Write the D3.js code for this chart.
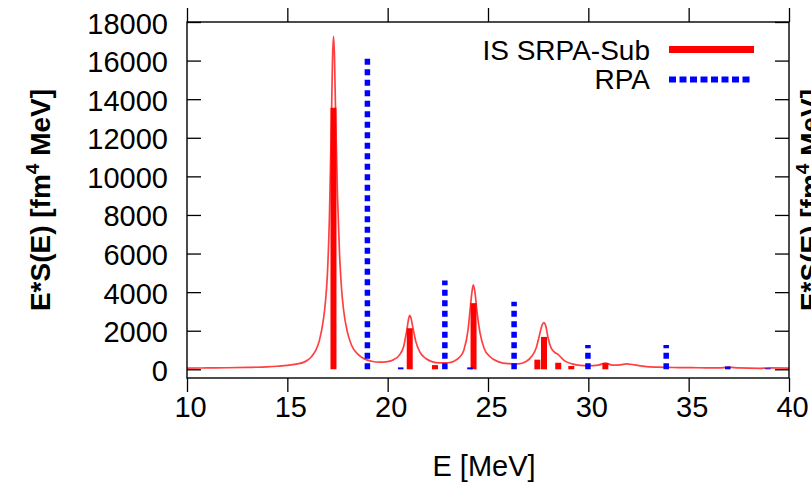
<!DOCTYPE html>
<html>
<head>
<meta charset="utf-8">
<script src="https://cdn.jsdelivr.net/npm/d3@7"></script>
<style>
  body { margin: 0; background: #fff; }
  svg text { font-family: "Liberation Sans", Arial, sans-serif; fill: #000; }
</style>
</head>
<body>
<div id="container"></div>
<script>
/**
 * CONSTANTS AND GLOBALS
 * */
const width = 811,
    height = 482,
    margin = { top: 22, bottom: 104, left: 187, right: 22 };
const fontSize = 29;

/**
 * DATA
 * */
// IS SRPA-Sub discrete strengths (red sticks)
const srpaE = [17.30, 21.10, 22.36, 24.28, 27.46, 27.79, 28.50, 29.15, 30.85];
const srpaS = [13560, 2130, 220, 3430, 500, 1680, 340, 170, 320];
// RPA discrete strengths (blue dotted sticks)
const rpaE = [18.99, 20.65, 22.85, 24.10, 26.30, 29.98, 33.88, 36.95, 38.95];
const rpaS = [16200, 100, 4600, 100, 3500, 1260, 1260, 150, 50];
// smoothed SRPA-Sub strength function (thin red curve)
const curveE = [10, 11, 12, 13, 14, 14.5, 15, 15.5, 15.8, 16.0, 16.2, 16.4, 16.6, 16.8, 16.9,
    17.0, 17.1, 17.2, 17.25, 17.3, 17.35, 17.4, 17.5, 17.6, 17.7, 17.8, 18.0, 18.2, 18.5, 18.8,
    19.2, 19.6, 20.0, 20.3, 20.6, 20.8, 20.95, 21.05, 21.1, 21.15, 21.25, 21.4, 21.6, 21.9, 22.2,
    22.6, 23.0, 23.3, 23.6, 23.8, 24.0, 24.1, 24.2, 24.27, 24.35, 24.45, 24.6, 24.8, 25.1, 25.5,
    26.0, 26.5, 26.9, 27.2, 27.4, 27.55, 27.7, 27.78, 27.88, 28.0, 28.15, 28.3, 28.5, 28.8, 29.2,
    29.6, 30.0, 30.5, 30.85, 31.2, 31.6, 31.9, 32.3, 32.8, 33.5, 34.5, 35.5, 36.5, 37.0, 37.5,
    38.5, 39.0, 40];
const curveS = [60, 70, 80, 100, 130, 160, 200, 280, 360, 470, 650, 950, 1500, 2600, 3500,
    5000, 8000, 13000, 16000, 17250, 16200, 13500, 9000, 6000, 4200, 3100, 1900, 1250, 800, 560,
    420, 370, 400, 500, 760, 1200, 2000, 2650, 2800, 2700, 2200, 1450, 900, 560, 400,
    330, 340, 420, 650, 1000, 2000, 3000, 4000, 4380, 4000, 3000, 1900, 1100, 650, 400,
    290, 280, 400, 700, 1100, 1700, 2300, 2420, 2250, 1600, 1100, 900, 760, 450, 280,
    200, 180, 220, 320, 220, 230, 280, 230, 150, 110, 90, 80, 70, 110, 70,
    50, 70, 60];

const xTicks = [10, 15, 20, 25, 30, 35, 40];
const yTicks = [0, 2000, 4000, 6000, 8000, 10000, 12000, 14000, 16000, 18000];
const legendLabels = ["IS SRPA-Sub", "RPA"];

/* SCALES */
const xScale = d3.scaleLinear()
    .domain([10, 40])
    .range([margin.left, width - margin.right]);
const yScale = d3.scaleLinear()
    .domain([-450, 18000])
    .range([height - margin.bottom, margin.top]);

/* SVG */
const svg = d3.select("#container")
    .append("svg")
    .attr("width", width)
    .attr("height", height)
    .style("display", "block");

// clip so nothing leaks outside the frame
svg.append("clipPath").attr("id", "plot-clip")
  .append("rect")
    .attr("x", xScale(10)).attr("y", yScale(18000))
    .attr("width", xScale(40) - xScale(10))
    .attr("height", yScale(-450) - yScale(18000));

const plot = svg.append("g").attr("clip-path", "url(#plot-clip)");

// smoothed curve
const line = d3.line()
    .x(d => xScale(d[0]))
    .y(d => yScale(d[1]))
    .curve(d3.curveMonotoneX);
plot.append("path")
    .datum(curveE.map((e, i) => [e, curveS[i]]))
    .attr("d", line)
    .attr("fill", "none")
    .attr("stroke", "#ff0000")
    .attr("stroke-opacity", 0.75)
    .attr("stroke-width", 1.7);

// red sticks
plot.selectAll("line.srpa")
    .data(srpaE.map((e, i) => ({ e, s: srpaS[i] })))
    .join("line")
    .attr("class", "srpa")
    .attr("x1", d => xScale(d.e)).attr("x2", d => xScale(d.e))
    .attr("y1", yScale(0)).attr("y2", d => yScale(d.s))
    .attr("stroke", "#ff0000")
    .attr("stroke-width", 6);

// blue dotted sticks
plot.selectAll("line.rpa")
    .data(rpaE.map((e, i) => ({ e, s: rpaS[i] })))
    .join("line")
    .attr("class", "rpa")
    .attr("x1", d => xScale(d.e)).attr("x2", d => xScale(d.e))
    .attr("y1", yScale(0)).attr("y2", d => yScale(d.s))
    .attr("stroke", "#0000ff")
    .attr("stroke-width", 5.5)
    .attr("stroke-dasharray", "6,4.5");

/* AXES */
const axisStyle = g => {
    g.select(".domain").remove();
    g.selectAll(".tick line").attr("stroke", "#000").attr("stroke-width", 1.3);
    g.selectAll(".tick text").style("font-size", fontSize + "px");
};

svg.append("g")
    .attr("transform", `translate(${xScale(10)},0)`)
    .call(d3.axisLeft(yScale).tickValues(yTicks).tickFormat(d3.format("d"))
        .tickSizeInner(-14).tickPadding(19))
    .call(axisStyle)
    .call(g => g.selectAll(".tick text").attr("dy", "0.38em"));

svg.append("g")
    .attr("transform", `translate(${xScale(40)},0)`)
    .call(d3.axisLeft(yScale).tickValues(yTicks).tickSize(14).tickFormat(""))
    .call(axisStyle)
    .call(g => g.selectAll(".tick line").attr("x2", -14));

svg.append("g")
    .attr("transform", `translate(0,${yScale(-450)})`)
    .call(d3.axisBottom(xScale).tickValues(xTicks).tickFormat(d3.format("d")).tickSize(14))
    .call(axisStyle)
    .call(g => g.selectAll(".tick text").attr("y", 39).attr("dy", 0).attr("x", 3));

svg.append("g")
    .attr("transform", `translate(0,${yScale(18000)})`)
    .call(d3.axisTop(xScale).tickValues(xTicks).tickSize(14).tickFormat(""))
    .call(axisStyle);

// frame
svg.append("rect")
    .attr("x", xScale(10)).attr("y", yScale(18000))
    .attr("width", xScale(40) - xScale(10))
    .attr("height", yScale(-450) - yScale(18000))
    .attr("fill", "none")
    .attr("stroke", "#000")
    .attr("stroke-width", 1.4);

/* AXIS TITLES */
svg.append("text")
    .attr("x", 484).attr("y", 476)
    .attr("text-anchor", "middle")
    .style("font-size", fontSize + "px")
    .text("E [MeV]");

const yTitle = (x) => {
    const t = svg.append("text")
        .attr("transform", `translate(${x},200) rotate(-90)`)
        .attr("text-anchor", "middle")
        .style("font-size", "28px")
        .style("font-weight", "bold");
    t.append("tspan").text("E*S(E) [fm");
    t.append("tspan").attr("dy", -11).style("font-size", "19px").text("4");
    t.append("tspan").attr("dy", 11).text(" MeV]");
};
yTitle(50);
// label of the neighbouring panel, cut off at the right edge as in the original
yTitle(820);

/* LEGEND */
const legend = svg.append("g");
legend.selectAll("text")
    .data(legendLabels)
    .join("text")
    .attr("x", 650)
    .attr("y", (d, i) => 60 + i * 28.5)
    .attr("text-anchor", "end")
    .style("font-size", "28px")
    .text(d => d);
legend.append("line")
    .attr("x1", 669).attr("x2", 754)
    .attr("y1", 49.5).attr("y2", 49.5)
    .attr("stroke", "#ff0000")
    .attr("stroke-width", 7);
legend.append("line")
    .attr("x1", 669).attr("x2", 751)
    .attr("y1", 79.5).attr("y2", 79.5)
    .attr("stroke", "#0000ff")
    .attr("stroke-width", 6)
    .attr("stroke-dasharray", "7,3.5");
</script>
</body>
</html>
